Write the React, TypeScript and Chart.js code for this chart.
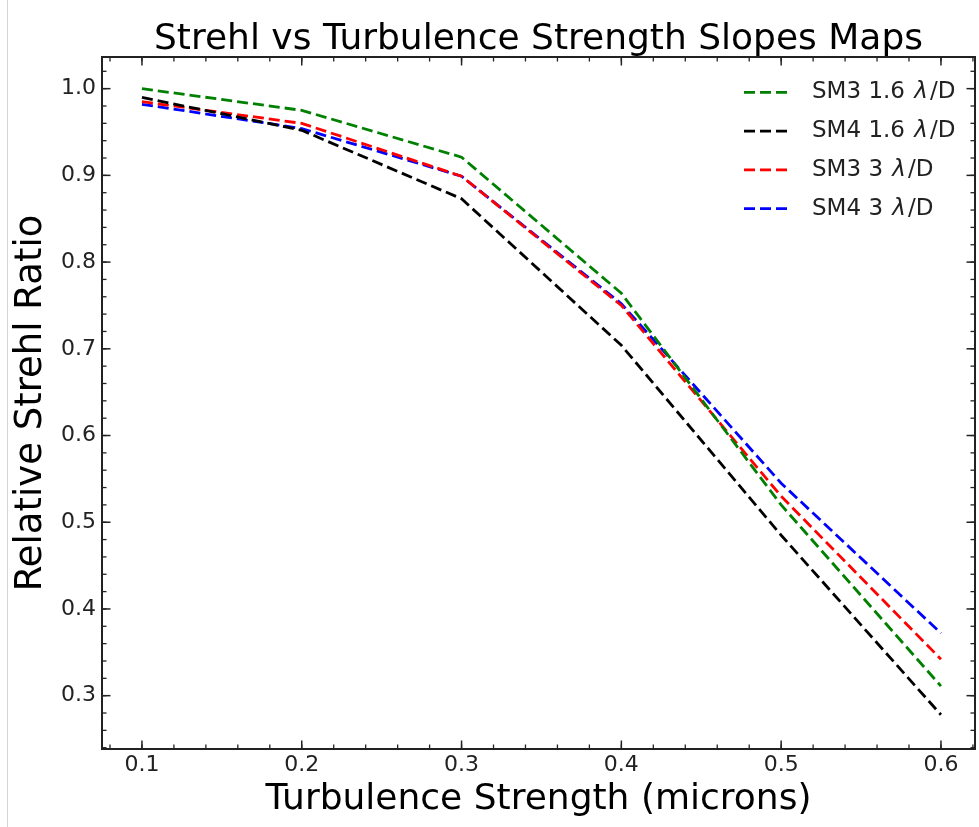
import React, { useEffect, useRef } from 'react';
import { Chart, registerables } from 'chart.js';

Chart.register(...registerables);

// ---- data ----
const turbulence = [0.1, 0.2, 0.3, 0.4, 0.5, 0.6];
const sm3_16 = [1.0, 0.975, 0.921, 0.764, 0.52, 0.311];
const sm4_16 = [0.99, 0.952, 0.873, 0.704, 0.485, 0.278];
const sm3_3 = [0.985, 0.96, 0.899, 0.75, 0.53, 0.342];
const sm4_3 = [0.982, 0.954, 0.899, 0.752, 0.545, 0.372];
const seriesLabels = ['SM3 1.6 λ/D', 'SM4 1.6 λ/D', 'SM3 3 λ/D', 'SM4 3 λ/D'];
const seriesColors = ['#008000', '#000000', '#ff0000', '#0000ff'];
const xTickValues = [0.1, 0.2, 0.3, 0.4, 0.5, 0.6];
const yTickValues = [0.3, 0.4, 0.5, 0.6, 0.7, 0.8, 0.9, 1.0];
const titleText = 'Strehl vs Turbulence Strength Slopes Maps';
const xTitle = 'Turbulence Strength (microns)';
const yTitle = 'Relative Strehl Ratio';

const FONT = "'DejaVu Sans', sans-serif";
const AXIS_COLOR = '#222';

const titlePlugin = {
  id: 'axesTitle',
  afterDraw(chart: any) {
    const { ctx, chartArea } = chart;
    ctx.save();
    ctx.fillStyle = '#000';
    ctx.font = `36px ${FONT}`;
    ctx.textAlign = 'center';
    ctx.textBaseline = 'alphabetic';
    ctx.fillText(titleText, (chartArea.left + chartArea.right) / 2, 49);
    ctx.restore();
  },
};

const frameTicksPlugin = {
  id: 'frameTicks',
  afterDraw(chart: any) {
    const { ctx, chartArea } = chart;
    const { left, right, top, bottom } = chartArea;
    const xs = chart.scales.x;
    const ys = chart.scales.y;
    ctx.save();
    ctx.strokeStyle = AXIS_COLOR;
    const seg = (x1: number, y1: number, x2: number, y2: number) => {
      ctx.beginPath();
      ctx.moveTo(x1, y1);
      ctx.lineTo(x2, y2);
      ctx.stroke();
    };
    const xTick = (v: number, len: number) => {
      const px = xs.getPixelForValue(v);
      seg(px, bottom, px, bottom - len);
      seg(px, top, px, top + len);
    };
    const yTick = (v: number, len: number) => {
      const py = ys.getPixelForValue(v);
      seg(left, py, left + len, py);
      seg(right, py, right - len, py);
    };
    ctx.lineWidth = 1.3;
    for (let i = Math.ceil(xs.min / 0.02 - 1e-6); i * 0.02 <= xs.max + 1e-9; i++) {
      xTick(i * 0.02, 4.5);
    }
    for (let i = Math.ceil(ys.min / 0.02 - 1e-6); i * 0.02 <= ys.max + 1e-9; i++) {
      yTick(i * 0.02, 4.5);
    }
    ctx.lineWidth = 1.5;
    xTickValues.forEach((v) => xTick(v, 8.5));
    yTickValues.forEach((v) => yTick(v, 8.5));
    ctx.lineWidth = 2;
    ctx.strokeRect(left, top, right - left, bottom - top);
    ctx.restore();
  },
};

const legendPlugin = {
  id: 'innerLegend',
  afterDraw(chart: any) {
    const { ctx } = chart;
    const lineX1 = 744;
    const lineX2 = 788;
    const textX = 812;
    const y0 = 92.3;
    const dy = 38.8;
    ctx.save();
    chart.data.datasets.forEach((ds: any, i: number) => {
      const y = y0 + i * dy;
      ctx.strokeStyle = ds.borderColor;
      ctx.lineWidth = ds.borderWidth;
      ctx.setLineDash(ds.borderDash);
      ctx.beginPath();
      ctx.moveTo(lineX1, y);
      ctx.lineTo(lineX2, y);
      ctx.stroke();
      ctx.setLineDash([]);
      ctx.fillStyle = '#222';
      ctx.textBaseline = 'middle';
      ctx.textAlign = 'left';
      const parts = String(ds.label).split('λ');
      let x = textX;
      ctx.font = `23px ${FONT}`;
      ctx.fillText(parts[0], x, y);
      x += ctx.measureText(parts[0]).width + 2;
      if (parts.length > 1) {
        ctx.font = `italic 23px ${FONT}`;
        ctx.fillText('λ', x, y);
        x += ctx.measureText('λ').width + 2;
        ctx.font = `23px ${FONT}`;
        ctx.fillText(parts[1], x, y);
      }
    });
    ctx.restore();
  },
};

export default function App() {
  const canvasRef = useRef<HTMLCanvasElement | null>(null);

  useEffect(() => {
    if (!canvasRef.current) return;
    const series = [sm3_16, sm4_16, sm3_3, sm4_3];
    const chart = new Chart(canvasRef.current, {
      type: 'line',
      data: {
        datasets: series.map((vals, i) => ({
          label: seriesLabels[i],
          data: turbulence.map((t, j) => ({ x: t, y: vals[j] })),
          borderColor: seriesColors[i],
          backgroundColor: seriesColors[i],
          borderWidth: 2.8,
          borderDash: [11, 5],
          pointRadius: 0,
          tension: 0,
          fill: false,
        })),
      },
      options: {
        animation: false,
        responsive: true,
        maintainAspectRatio: false,
        layout: { padding: { left: 0, right: 4, top: 57, bottom: 0 } },
        plugins: {
          legend: { display: false },
          tooltip: { enabled: false },
          title: { display: false },
        },
        scales: {
          x: {
            type: 'linear',
            min: 0.075,
            max: 0.6213,
            grid: { display: false, drawTicks: false },
            border: { display: false },
            afterBuildTicks: (s: any) => {
              s.ticks = xTickValues.map((value) => ({ value }));
            },
            afterFit: (s: any) => {
              s.height = 78;
            },
            ticks: {
              color: AXIS_COLOR,
              padding: 3,
              maxRotation: 0,
              autoSkip: false,
              font: { family: FONT, size: 22 },
              callback: (v: any) => Number(v).toFixed(1),
            },
            title: {
              display: true,
              text: xTitle,
              color: '#000',
              font: { family: FONT, size: 36 },
              padding: { top: 0, bottom: 6 },
            },
          },
          y: {
            type: 'linear',
            min: 0.2385,
            max: 1.0365,
            grid: { display: false, drawTicks: false },
            border: { display: false },
            afterBuildTicks: (s: any) => {
              s.ticks = yTickValues.map((value) => ({ value }));
            },
            afterFit: (s: any) => {
              s.width = 102;
            },
            ticks: {
              color: AXIS_COLOR,
              padding: 6,
              autoSkip: false,
              font: { family: FONT, size: 22 },
              callback: (v: any) => Number(v).toFixed(1),
            },
            title: {
              display: true,
              text: yTitle,
              color: '#000',
              font: { family: FONT, size: 37 },
              padding: { top: 9, bottom: 0 },
            },
          },
        },
      } as any,
      plugins: [titlePlugin, frameTicksPlugin, legendPlugin],
    });
    return () => chart.destroy();
  }, []);

  return (
    <div style={{ position: 'absolute', left: 0, top: 0, width: 979, height: 827, background: '#fff' }}>
      <div style={{ position: 'absolute', left: 7, top: 0, width: 1, height: 827, background: '#d4d4d4' }} />
      <canvas ref={canvasRef} />
    </div>
  );
}
